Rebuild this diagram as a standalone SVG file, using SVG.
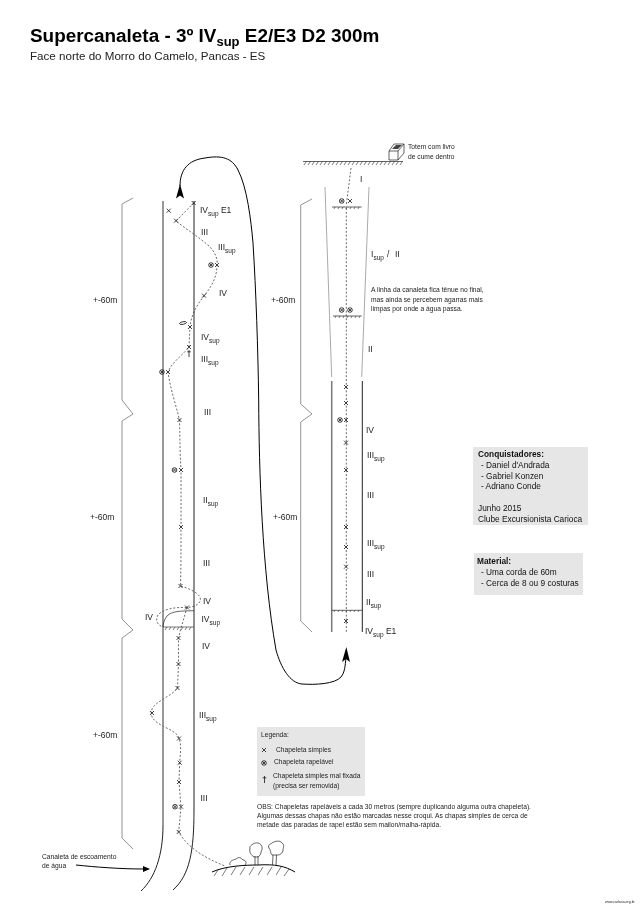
<svg xmlns="http://www.w3.org/2000/svg" width="640" height="905" viewBox="0 0 640 905">
<style>
text{font-family:"Liberation Sans",Arial,sans-serif;fill:#222}
.t{font-size:18.9px;font-weight:bold;fill:#000}
.g{font-size:8.5px}
.s{font-size:6.7px}
.b{font-size:8.3px;fill:#111}
.bb{font-weight:bold}
.sub{font-size:6.5px}
.wall{fill:none;stroke:#222;stroke-width:1}
.wallg{fill:none;stroke:#777;stroke-width:1.5}
.faint{fill:none;stroke:#aaa;stroke-width:1}
.brace{fill:none;stroke:#777;stroke-width:.8}
.route{fill:none;stroke:#444;stroke-width:.8;stroke-dasharray:2 1.8}
.line{fill:none;stroke:#000;stroke-width:1}
.thin{fill:none;stroke:#222;stroke-width:.7}
.hatch{fill:none;stroke:#333;stroke-width:.65}
.mk{fill:none;stroke:#222;stroke-width:.85}
.box{fill:#e6e6e6}
.gray{filter:url(#soft)}
</style>
<defs>
<filter id="soft" x="0" y="0" width="640" height="905" filterUnits="userSpaceOnUse" color-interpolation-filters="sRGB"><feGaussianBlur stdDeviation="0.22"/></filter>
<g id="x"><path class="mk" d="M-2-2L2 2M-2 2L2-2"/></g>
<g id="o"><circle class="mk" r="2.3"/><path class="mk" d="M-1.6-1.6L1.6 1.6M-1.6 1.6L1.6-1.6"/></g>
<g id="dag"><path class="mk" d="M0-3V4M-1.8-1.2H1.8"/></g>
</defs>
<rect width="640" height="905" fill="#fff"/>

<g id="header" class="gray">
<text class="t" x="30" y="42">Supercanaleta - 3º IV<tspan font-size="13" dy="4">sup</tspan><tspan dy="-4"> E2/E3 D2 300m</tspan></text>
<text x="30" y="60" font-size="11.6">Face norte do Morro do Camelo, Pancas - ES</text>
</g>

<g id="connectors">
<path class="route" d="M193.700 203L176 221C186 229 200 238 209 246C215 252 218 259 217 265C217 278 211 287 204 296C196 306 191 316 190 327L189 347C182 356 172 362 168 372C170 388 176 405 179.500 420C180 440 180 455 181 470L181 527C181 550 181 570 180.500 586C188 588 197 592 200 597C202 603 196 607 187 607.500C175 607 163 609 158 615C155 620 157 625 163 627"/>
<path class="route" d="M187 607.500L181 628L178.500 638L178.500 664L177.500 688C172 696 156 701 152 709C149 717 155 722 163 726C170 730 178 733 179 738.500C182 746 180 755 179.700 762.700L179 782L181 806.700L178.700 832C188 848 205 858 225 866"/>
<path class="route" d="M351 168L346.300 205M346.300 208V632"/>
<path class="line" d="M180 186C180 170 188 160 205 158C222 155 232 158 238 170C247 187 251 220 253 243C256 290 258 350 258.700 400C259 470 262 570 276 650C281 668 290 683 302 684C315 685 335 684 341 677C345 672 345 666 346 658"/>
<path fill="#000" d="M180 184L184 198.500L180 195.500L176 198.500Z"/>
<path fill="#000" d="M346.300 647L350 662L346 659L342 662Z"/>
<path class="line" stroke-width=".8" d="M76 865C95 867 120 869 144 869"/>
<path fill="#000" d="M150 869L143 866V872Z"/>
</g>

<g id="left-wall">
<path class="wallg" d="M163 201V825"/>
<path class="wall" d="M163 825C163 855 155 878 141 891"/>
<path class="wall" d="M194 201V810C194 850 190 875 173 890"/>
<path class="thin" d="M194 610.700C180 611 172 611 167 616C164 620 163 624 163 627"/>
<path class="hatch" d="M163 627H194M165 630L167 627M169 630L171 627M173 630L175 627M177 630L179 627M181 630L183 627M185 630L187 627M189 630L191 627"/>
</g>

<g id="left-brace-1"><path class="brace" d="M133 198L122 204V400L133 414L122 421V619L133 630L122 638V838L133 849"/></g>
<g id="right-brace"><path class="brace" d="M312 199L300.700 205V404L312 414L300.700 422V621L312 632"/></g>

<g id="left-marks">
<use href="#x" x="168.700" y="210.700"/><use href="#x" x="193.700" y="203"/><use href="#x" x="176" y="220.700"/>
<use href="#o" x="211" y="265"/><use href="#x" x="217" y="265"/><use href="#x" x="204" y="295.700"/>
<ellipse class="mk" cx="183" cy="323" rx="3.500" ry="1.300" transform="rotate(-12 183 323)"/>
<use href="#x" x="190" y="327"/><use href="#x" x="189" y="347"/><use href="#dag" x="189" y="353"/>
<use href="#o" x="162" y="372"/><use href="#x" x="168" y="372"/>
<use href="#x" x="179.500" y="420"/><use href="#o" x="174.500" y="470"/><use href="#x" x="181" y="470"/>
<use href="#x" x="181" y="527"/><use href="#x" x="180.500" y="586"/><use href="#x" x="187" y="607.500"/>
<use href="#x" x="178.500" y="638"/><use href="#x" x="178.500" y="664"/><use href="#x" x="177.500" y="688"/>
<use href="#x" x="152" y="713"/><use href="#x" x="179" y="738.500"/><use href="#x" x="179.700" y="762.700"/>
<use href="#x" x="179" y="782"/><use href="#o" x="175" y="806.700"/><use href="#x" x="181" y="806.700"/><use href="#x" x="178.700" y="832"/>
</g>

<g id="left-labels" class="gray">
<text class="g" x="200" y="213">IV<tspan class="sub" dy="2.500">sup</tspan><tspan dy="-2.500"> E1</tspan></text>
<text class="g" x="201" y="235">III</text>
<text class="g" x="218" y="250">III<tspan class="sub" dy="2.500">sup</tspan></text>
<text class="g" x="219" y="296">IV</text>
<text class="g" x="201" y="340">IV<tspan class="sub" dy="2.500">sup</tspan></text>
<text class="g" x="201" y="362">III<tspan class="sub" dy="2.500">sup</tspan></text>
<text class="g" x="204" y="415">III</text>
<text class="g" x="203" y="503">II<tspan class="sub" dy="2.500">sup</tspan></text>
<text class="g" x="203" y="566">III</text>
<text class="g" x="203" y="604">IV</text>
<text class="g" x="201.500" y="622">IV<tspan class="sub" dy="2.500">sup</tspan></text>
<text class="g" x="145" y="620">IV</text>
<text class="g" x="202" y="649">IV</text>
<text class="g" x="199" y="718">III<tspan class="sub" dy="2.500">sup</tspan></text>
<text class="g" x="200.500" y="801">III</text>
<text class="g" x="93" y="303">+-60m</text>
<text class="g" x="90" y="520">+-60m</text>
<text class="g" x="93" y="738">+-60m</text>
<text class="s" x="42" y="859">Canaleta de escoamento</text>
<text class="s" x="42" y="868">de água</text>
</g>

<g id="ground">
<path class="line" stroke-width=".8" d="M212 872C225 866 245 865 258 865C275 864 285 866 295 872"/>
<path class="hatch" d="M214 876L218 870M222 876L227 868M231 875L236 867M240 875L245 867M249 875L254 867M258 875L263 867M267 875L272 867M276 875L281 867M284 876L289 869"/>
<path class="thin" d="M230 865C229 861 233 860 236 859C238 857 241 857 243 860C246 860 247 863 245 865"/>
<path class="thin" d="M255 856V865M258 856V865"/>
<path class="thin" d="M254 857C251 855 249 852 250 849C249 846 252 845 253 844C256 842 260 843 261 845C263 847 262 850 261 852C261 855 259 856 258 857Z"/>
<path class="thin" d="M273 855L272.500 865M276.500 855L276 865"/>
<path class="thin" d="M272 855C270 853 271 850 269 848C267 845 271 844 272 843C275 841 280 840 282 843C285 845 283 848 283 850C283 853 280 855 278 855Z"/>
</g>

<g id="right-route">
<path class="thin" d="M303 161.500H403"/>
<path class="hatch" d="M304 165L306.500 161.500M308 165L310.500 161.500M312 165L314.500 161.500M316 165L318.500 161.500M320 165L322.500 161.500M324 165L326.500 161.500M328 165L330.500 161.500M332 165L334.500 161.500M336 165L338.500 161.500M340 165L342.500 161.500M344 165L346.500 161.500M348 165L350.500 161.500M352 165L354.500 161.500M356 165L358.500 161.500M360 165L362.500 161.500M364 165L366.500 161.500M368 165L370.500 161.500M372 165L374.500 161.500M376 165L378.500 161.500M380 165L382.500 161.500M384 165L386.500 161.500M388 165L390.500 161.500M392 165L394.500 161.500M396 165L398.500 161.500M400 165L402.500 161.500"/>
<path class="faint" d="M325 187L331.700 377M369 187L361.700 377"/>
<path class="wallg" stroke-width="1.200" d="M331.700 381V632"/>
<path class="wall" d="M362.300 381V632"/>
<path class="thin" d="M332 207H361.700M333 316H361.700M331.700 610.300H362.300"/>
<path class="hatch" d="M334 209L335 207M338 209L339 207M342 209L343 207M346 209L347 207M350 209L351 207M354 209L355 207M358 209L359 207M335 318L336 316M339 318L340 316M343 318L344 316M347 318L348 316M351 318L352 316M355 318L356 316M359 318L360 316M334 612L335 610M338 612L339 610M342 612L343 610M346 612L347 610M350 612L351 610M354 612L355 610M358 612L359 610"/>
</g>

<g id="totem">
<path class="thin" d="M389 151H398V160H389ZM389 151L394 144H404L398 151M404 144V153L398 160"/>
<path fill="#444" d="M392 149L396 145H402L398 149Z"/>
<g class="gray"><text class="s" x="408" y="149">Totem com livro</text>
<text class="s" x="408" y="159">de cume dentro</text></g>
</g>

<g id="right-marks">
<use href="#o" x="341.700" y="201"/><use href="#x" x="350" y="201"/>
<use href="#o" x="341.700" y="310"/><use href="#o" x="350" y="310"/>
<use href="#x" x="346" y="387"/><use href="#x" x="346" y="403"/><use href="#o" x="340" y="420"/><use href="#x" x="346" y="420"/>
<use href="#x" x="346" y="442.700"/><use href="#x" x="346" y="470"/><use href="#x" x="346" y="527"/>
<use href="#x" x="346" y="547"/><use href="#x" x="346" y="566.700"/><use href="#x" x="346" y="621"/>
</g>

<g id="right-labels" class="gray">
<text class="g" x="360" y="182">I</text>
<text class="g" x="371" y="257">I<tspan class="sub" dy="2.500">sup</tspan></text>
<text class="g" x="387" y="257">/</text>
<text class="g" x="395" y="257">II</text>
<text class="g" x="368" y="352">II</text>
<text class="g" x="366" y="433">IV</text>
<text class="g" x="367" y="458">III<tspan class="sub" dy="2.500">sup</tspan></text>
<text class="g" x="367" y="498">III</text>
<text class="g" x="367" y="546">III<tspan class="sub" dy="2.500">sup</tspan></text>
<text class="g" x="367" y="577">III</text>
<text class="g" x="366" y="605">II<tspan class="sub" dy="2.500">sup</tspan></text>
<text class="g" x="365" y="634">IV<tspan class="sub" dy="2.500">sup</tspan><tspan dy="-2.500"> E1</tspan></text>
<text class="g" x="271" y="303">+-60m</text>
<text class="g" x="273" y="520">+-60m</text>
<text class="s" x="371" y="292">A linha da canaleta fica tênue no final,</text>
<text class="s" x="371" y="301.500">mas ainda se percebem agarras mais</text>
<text class="s" x="371" y="311">limpas por onde a água passa.</text>
</g>

<g id="legend">
<rect class="box" x="257" y="727" width="108" height="69"/>
<use href="#x" x="264" y="750"/>
<use href="#o" x="264" y="763"/>
<use href="#dag" x="264.500" y="779"/>
<g class="gray"><text class="s" x="261" y="737">Legenda:</text>
<text class="s" x="276" y="752">Chapeleta simples</text>
<text class="s" x="274" y="764">Chapeleta rapelável</text>
<text class="s" x="273" y="778">Chapeleta simples mal fixada</text>
<text class="s" x="273" y="788">(precisa ser removida)</text></g>
</g>

<g id="obs" class="gray">
<text class="s" x="257" y="809">OBS: Chapeletas rapeláveis a cada 30 metros (sempre duplicando alguma outra chapeleta).</text>
<text class="s" x="257" y="818">Algumas dessas chapas não estão marcadas nesse croqui. As chapas simples de cerca de</text>
<text class="s" x="257" y="827">metade das paradas de rapel estão sem mailon/malha-rápida.</text>
</g>

<g id="conquistadores">
<rect class="box" x="473" y="447" width="115" height="78"/>
<g class="gray"><text class="b bb" x="478" y="457">Conquistadores:</text>
<text class="b" x="481" y="468">- Daniel d'Andrada</text>
<text class="b" x="481" y="479">- Gabriel Konzen</text>
<text class="b" x="481" y="489">- Adriano Conde</text>
<text class="b" x="478" y="511">Junho 2015</text>
<text class="b" x="478" y="521.500">Clube Excursionista Carioca</text></g>
</g>

<g id="material">
<rect class="box" x="474" y="553" width="109" height="42"/>
<g class="gray"><text class="b bb" x="477" y="564">Material:</text>
<text class="b" x="481" y="575">- Uma corda de 60m</text>
<text class="b" x="481" y="585.500">- Cerca de 8 ou 9 costuras</text></g>
</g>

<g class="gray"><text x="605" y="903" font-size="3.500">www.carlosa.org.br</text></g>
</svg>
